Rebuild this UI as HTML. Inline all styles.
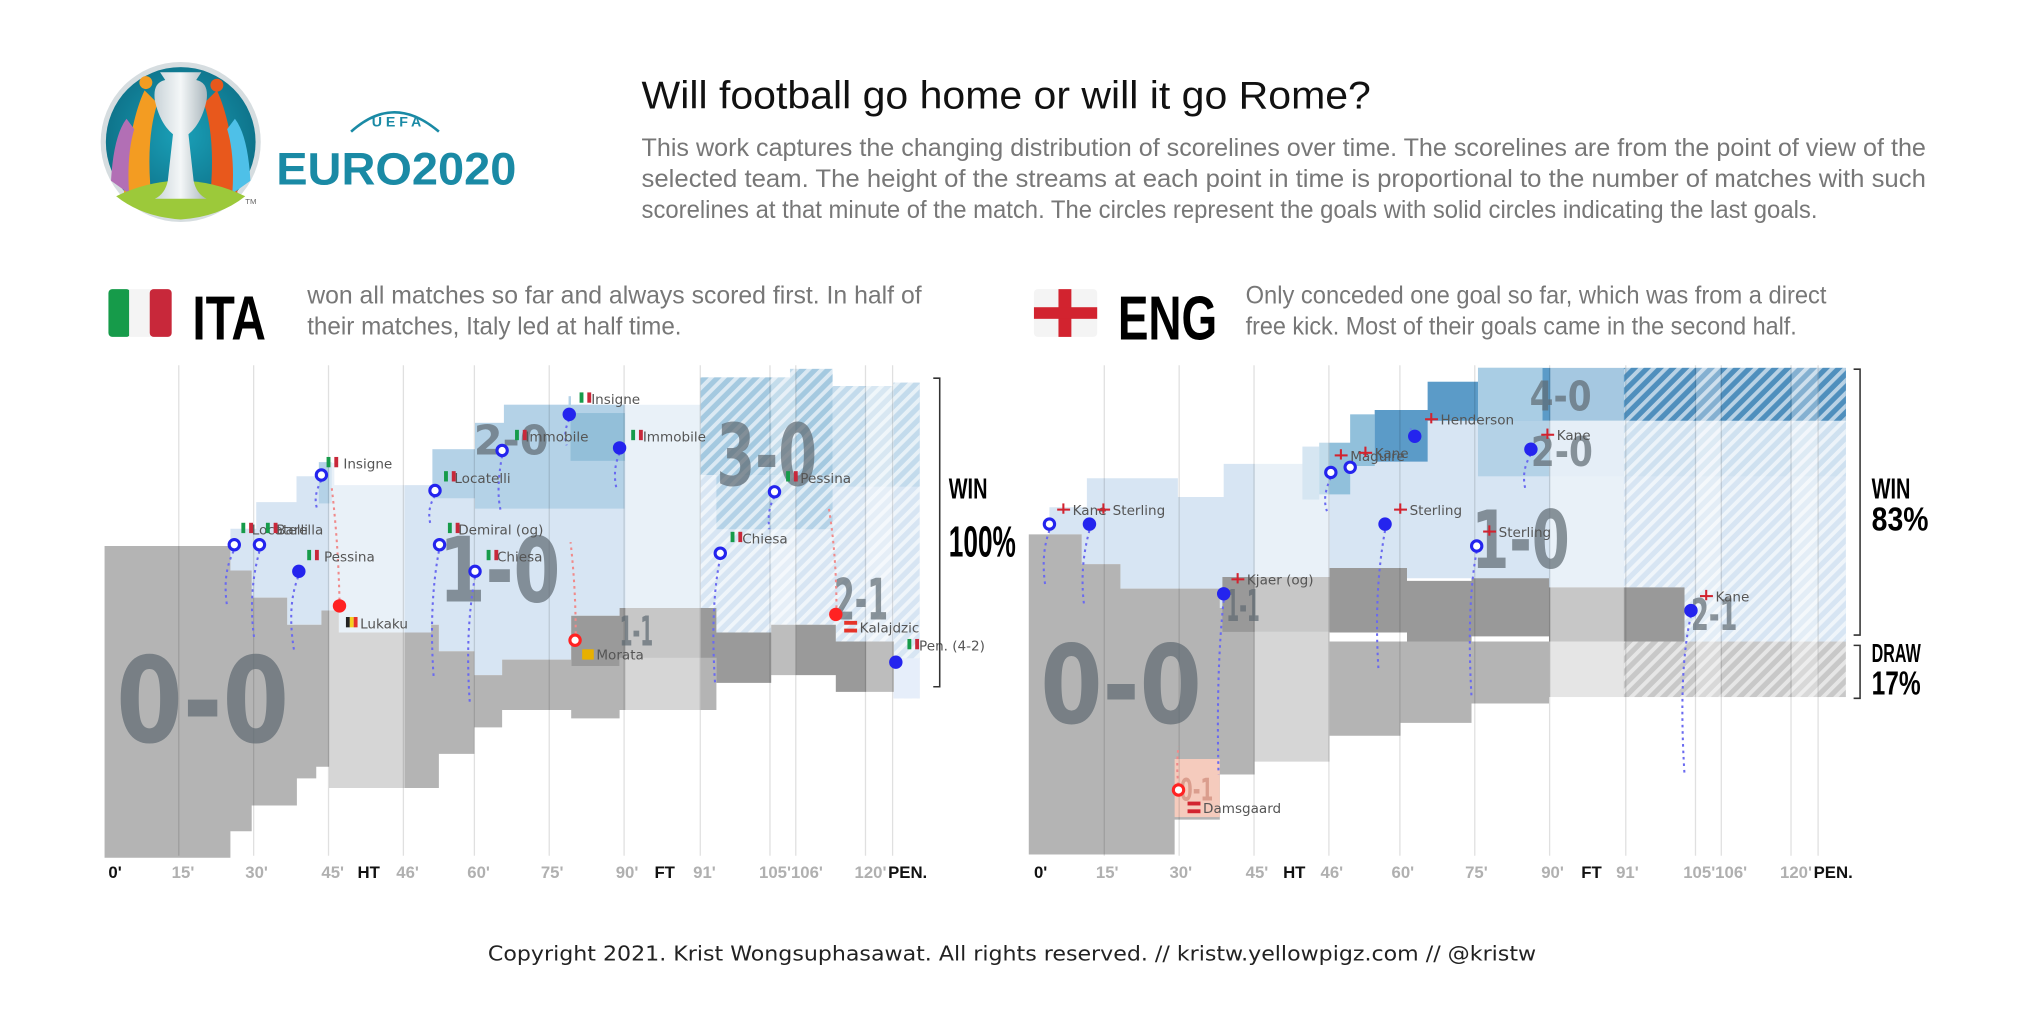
<!DOCTYPE html>
<html><head><meta charset="utf-8"><style>
html,body{margin:0;padding:0;background:#fff}
svg{display:block}
.ax{font-family:"Liberation Sans Narrow","Liberation Sans",sans-serif;font-weight:bold;font-size:13px;fill:#b0b0b0}
.axb{fill:#111}
.gl{font-family:"DejaVu Sans","Liberation Sans",sans-serif;font-size:10.5px;fill:#555}
.big{font-family:"DejaVu Sans","Liberation Sans",sans-serif;font-weight:bold;fill:#5f6a72;opacity:.7}
.desc{font-family:"Liberation Sans Narrow","Liberation Sans",sans-serif;fill:#777;font-size:19px}
</style></head><body>
<svg width="2024" height="1012" viewBox="0 0 1568 784" preserveAspectRatio="none" xmlns="http://www.w3.org/2000/svg">
<defs>
<pattern id="hw" width="7" height="7" patternUnits="userSpaceOnUse" patternTransform="rotate(45)"><rect width="3" height="7" fill="#fff" opacity=".6"/></pattern>
<pattern id="hg" width="7" height="7" patternUnits="userSpaceOnUse" patternTransform="rotate(45)"><rect width="7" height="7" fill="#c8c8c8"/><rect width="3" height="7" fill="#e6e6e6"/></pattern>
<radialGradient id="lg" cx="50%" cy="45%" r="55%"><stop offset="0" stop-color="#1aa0b8"/><stop offset="1" stop-color="#0d6f86"/></radialGradient>
<linearGradient id="tr" x1="0" x2="1"><stop offset="0" stop-color="#c9d3d8"/><stop offset=".5" stop-color="#f4f7f8"/><stop offset="1" stop-color="#aab6bc"/></linearGradient>
</defs>

<!-- LOGO -->
<circle cx="140" cy="110" r="62" fill="#d6dde0"/>
<circle cx="140" cy="110" r="58" fill="url(#lg)"/>
<path d="M96,150 Q100,95 112,70 L122,80 Q112,110 118,160 Z" fill="#f39c22"/>
<path d="M184,150 Q180,95 168,70 L158,80 Q168,110 162,160 Z" fill="#e8581c"/>
<path d="M86,140 Q88,105 98,92 L104,100 Q98,120 100,150 Z" fill="#b26fb5"/>
<path d="M194,140 Q192,105 182,92 L176,100 Q182,120 180,150 Z" fill="#4ec0e8"/>
<circle cx="113" cy="64" r="5" fill="#f39c22"/><circle cx="168" cy="66" r="5" fill="#e8581c"/>
<path d="M90,152 Q140,128 190,152 Q170,168 140,170 Q110,168 90,152Z" fill="#9cc93a"/>
<path d="M124,56 H156 L152,62 Q162,64 160,78 Q156,96 146,104 L150,140 Q152,150 160,154 H120 Q128,150 130,140 L134,104 Q124,96 120,78 Q118,64 128,62 Z" fill="url(#tr)"/>
<text x="190" y="158" font-size="6" font-family="Liberation Sans" fill="#666">TM</text>
<path d="M272,102 Q305,72 340,102" fill="none" stroke="#1a8aa5" stroke-width="2"/>
<text x="288" y="98" font-family="Liberation Sans" font-size="11" font-weight="bold" fill="#1a8aa5" letter-spacing="3">UEFA</text>
<text x="214" y="143" font-family="Liberation Sans" font-weight="bold" font-size="35" fill="#1a8aa5" textLength="186" lengthAdjust="spacingAndGlyphs">EURO2020</text>

<!-- TITLE -->
<text x="497" y="84" font-family="Liberation Sans Narrow','Liberation Sans',sans-serif" style="font-family:'Liberation Sans Narrow','Liberation Sans',sans-serif" font-size="30" fill="#111" textLength="565" lengthAdjust="spacingAndGlyphs">Will football go home or will it go Rome?</text>
<text class="desc" x="497" y="121" font-size="18" textLength="995" lengthAdjust="spacingAndGlyphs">This work captures the changing distribution of scorelines over time. The scorelines are from the point of view of the</text>
<text class="desc" x="497" y="145" font-size="18" textLength="995" lengthAdjust="spacingAndGlyphs">selected team. The height of the streams at each point in time is proportional to the number of matches with such</text>
<text class="desc" x="497" y="169" font-size="18" textLength="911" lengthAdjust="spacingAndGlyphs">scorelines at that minute of the match. The circles represent the goals with solid circles indicating the last goals.</text>

<!-- ITA HEADER -->
<g><rect x="84" y="224" width="17" height="37" rx="3" fill="#169b4a"/><rect x="100" y="224" width="17" height="37" fill="#f4f4f4"/><rect x="116" y="224" width="17" height="37" rx="3" fill="#c8283a"/></g>
<text x="149" y="263" font-family="Liberation Sans" font-weight="bold" font-size="48" fill="#000" textLength="57" lengthAdjust="spacingAndGlyphs">ITA</text>
<text class="desc" x="238" y="235" textLength="476" lengthAdjust="spacingAndGlyphs">won all matches so far and always scored first. In half of</text>
<text class="desc" x="238" y="259" textLength="290" lengthAdjust="spacingAndGlyphs">their matches, Italy led at half time.</text>
<!-- ENG HEADER -->
<rect x="801" y="224" width="49" height="37" rx="3" fill="#f4f4f4"/><rect x="820" y="224" width="10" height="37" fill="#d2232f"/><rect x="801" y="238" width="49" height="9" fill="#d2232f"/>
<text x="866" y="263" font-family="Liberation Sans" font-weight="bold" font-size="48" fill="#000" textLength="77" lengthAdjust="spacingAndGlyphs">ENG</text>
<text class="desc" x="965" y="235" textLength="450" lengthAdjust="spacingAndGlyphs">Only conceded one goal so far, which was from a direct</text>
<text class="desc" x="965" y="259" textLength="427" lengthAdjust="spacingAndGlyphs">free kick. Most of their goals came in the second half.</text>

<!-- ================= ITA CHART ================= -->
<g>
<!-- light blue envelope -->
<path d="M178.5,423 V409.6 H198.5 V389 H229.7 V369 H250.4 V358.6 H259 V375.8 H335 V348 H368 V327.6 H390.4 V313.6 H440.5 V307 H442.3 V313.6 H542.5 V292.4 H612 V285.8 H645 V299 H692 V296.4 H712.5 V541 H692.5 V497 H647.5 V484 H597.5 V490 H555 V471 H480 V477 H442.5 V511 H389 V523 H367.5 V504.5 H340 V484 H334 V490 H262.5 V473 H249 V484 H222.5 V463 H195 V442 H178.5 Z" fill="#d7e5f3"/>
<!-- 2-0 medium -->
<path d="M335,348 H368 V327.6 H390.4 V313.6 H440.5 V307 H442.3 V313.6 H483.8 V394 H368 V386 H335 Z" fill="#b4d2e7"/>
<rect x="442" y="320" width="42" height="37" fill="#93bfd9"/>
<rect x="247" y="358" width="10" height="32" fill="#b4d2e7"/>
<!-- ET hatched 3-0 -->
<path d="M542.5,292.4 H612 V285.8 H645 V368 H542.5 Z" fill="#a4c9e0"/>
<path d="M645,299 H692 V296.4 H712.5 V377 H645 Z" fill="#c3dbec"/>
<rect x="555" y="368" width="90" height="42" fill="#b4d2e7"/>
<rect x="542.5" y="285" width="170" height="256" fill="url(#hw)"/>
<rect x="692" y="510" width="20.5" height="31" fill="#e6eefa"/>
<!-- gray 0-0 -->
<path d="M81,423 H178.5 V442 H195 V463 H222.5 V484 H249 V473 H262.5 V490 H334 V484 H340 V504.5 H367.5 V523 H389 V511 H442.5 V516 H480 V508.6 H555 V550 H480 V556.5 H442.5 V550 H389 V563.5 H367.5 V584 H340 V610.5 H255 V594 H245 V603 H230 V624 H195 V644 H178.5 V664.5 H81 Z" fill="#b4b4b4"/>
<!-- 1-1 dark -->
<path d="M442.5,477 H480 V471 H555 V490 H597.5 V484 H647.5 V497 H692.5 V536 H647.5 V523 H597.5 V529 H555 V509.6 H480 V516 H442.5 Z" fill="#9a9a9a"/>
<!-- light bands -->
<rect x="255" y="283" width="58.5" height="382" fill="#fff" opacity=".45"/>
<rect x="484.5" y="283" width="58.5" height="382" fill="#fff" opacity=".45"/>
<rect x="597.5" y="283" width="19" height="382" fill="#fff" opacity=".35"/>
<rect x="671" y="283" width="21.5" height="382" fill="#fff" opacity=".35"/>
<!-- grid -->
<g stroke="#000" stroke-opacity=".12" stroke-width="1">
<path d="M138.5,283V663M196.5,283V663M254.5,283V663M312.5,283V663M367.5,283V663M425.5,283V663M483.5,283V663M542.5,283V663M596.5,283V663M616.5,283V663M670.5,283V663M691.5,283V663"/>
</g>
<!-- big labels -->
<text class="big" x="90" y="575" font-size="92" textLength="134" lengthAdjust="spacingAndGlyphs">0-0</text>
<text class="big" x="340" y="466" font-size="70" textLength="94" lengthAdjust="spacingAndGlyphs">1-0</text>
<text class="big" x="367" y="352" font-size="32" textLength="58" lengthAdjust="spacingAndGlyphs">2-0</text>
<text class="big" x="555" y="376" font-size="66" textLength="78" lengthAdjust="spacingAndGlyphs">3-0</text>
<text class="big" x="646" y="480" font-size="44" textLength="42" lengthAdjust="spacingAndGlyphs">2-1</text>
<text class="big" x="480" y="500" font-size="32" textLength="26" lengthAdjust="spacingAndGlyphs">1-1</text>
<!-- trails -->
<g fill="none" stroke="#6a6af0" stroke-width="1.6" stroke-dasharray="2 3">
<path d="M181,427 Q172,445 176,470"/><path d="M201,427 Q192,460 197,495"/><path d="M231,447 Q222,470 228,505"/>
<path d="M249,372 Q242,385 246,395"/><path d="M340,427 Q332,470 336,525"/><path d="M368,447 Q360,490 364,545"/>
<path d="M337,384 Q330,395 334,408"/><path d="M389,353 Q384,380 388,396"/><path d="M441,325 Q436,335 439,345"/>
<path d="M480,351 Q474,365 478,380"/><path d="M558,432 Q550,470 554,530"/><path d="M600,385 Q594,395 596,410"/>
<path d="M694,517 Q690,512 692,508"/>
</g>
<g fill="none" stroke="#f08a8a" stroke-width="1.6" stroke-dasharray="2 3">
<path d="M263,465 Q262,420 257,378"/><path d="M446,491 Q446,455 442,420"/><path d="M648,471 Q648,430 642,393"/>
</g>
<!-- goals -->
<g fill="#fff" stroke="#2424ee" stroke-width="2.4">
<circle cx="181.5" cy="422" r="4"/><circle cx="201" cy="422" r="4"/><circle cx="249" cy="368" r="4"/>
<circle cx="340.5" cy="422" r="4"/><circle cx="368" cy="442.6" r="4"/><circle cx="337" cy="380" r="4"/>
<circle cx="389" cy="349" r="4"/><circle cx="558" cy="428.6" r="4"/><circle cx="600" cy="381" r="4"/>
</g>
<g fill="#2424ee"><circle cx="231.5" cy="442.6" r="5.2"/><circle cx="441" cy="321" r="5.2"/><circle cx="480" cy="347" r="5.2"/><circle cx="694" cy="513" r="5.2"/></g>
<circle cx="263" cy="469.4" r="5.2" fill="#f22"/><circle cx="647.5" cy="476" r="5.2" fill="#f22"/>
<circle cx="445.5" cy="496" r="4" fill="#fff" stroke="#f22" stroke-width="2.4"/>
<!-- goal labels -->
<g class="gl">
<text x="195" y="414">Locatelli</text><text x="214" y="414">Barella</text>
<text x="251" y="435">Pessina</text><text x="266" y="363">Insigne</text>
<text x="279" y="487">Lukaku</text><text x="355" y="414">Demiral (og)</text>
<text x="385" y="435">Chiesa</text><text x="352" y="374">Locatelli</text>
<text x="407" y="342">Immobile</text><text x="458" y="313">Insigne</text>
<text x="498" y="342">Immobile</text><text x="462" y="511">Morata</text>
<text x="575" y="421">Chiesa</text><text x="620" y="374">Pessina</text>
<text x="666" y="490">Kalajdzic</text><text x="712" y="504">Pen. (4-2)</text>
</g>
<g>
<!-- little flags -->
<g><rect x="187" y="405" width="3" height="8" fill="#169b4a"/><rect x="193" y="405" width="3" height="8" fill="#c8283a"/></g>
<g><rect x="206" y="405" width="3" height="8" fill="#169b4a"/><rect x="212" y="405" width="3" height="8" fill="#c8283a"/></g>
<g><rect x="238" y="426" width="3" height="8" fill="#169b4a"/><rect x="244" y="426" width="3" height="8" fill="#c8283a"/></g>
<g><rect x="253" y="354" width="3" height="8" fill="#169b4a"/><rect x="259" y="354" width="3" height="8" fill="#c8283a"/></g>
<g><rect x="268" y="478" width="3" height="8" fill="#222"/><rect x="271" y="478" width="3" height="8" fill="#f5d020"/><rect x="274" y="478" width="3" height="8" fill="#e5332a"/></g>
<g><rect x="347" y="405" width="3" height="8" fill="#169b4a"/><rect x="353" y="405" width="3" height="8" fill="#c8283a"/></g>
<g><rect x="377" y="426" width="3" height="8" fill="#169b4a"/><rect x="383" y="426" width="3" height="8" fill="#c8283a"/></g>
<g><rect x="344" y="365" width="3" height="8" fill="#169b4a"/><rect x="350" y="365" width="3" height="8" fill="#c8283a"/></g>
<g><rect x="399" y="333" width="3" height="8" fill="#169b4a"/><rect x="405" y="333" width="3" height="8" fill="#c8283a"/></g>
<g><rect x="449" y="304" width="3" height="8" fill="#169b4a"/><rect x="455" y="304" width="3" height="8" fill="#c8283a"/></g>
<g><rect x="489" y="333" width="3" height="8" fill="#169b4a"/><rect x="495" y="333" width="3" height="8" fill="#c8283a"/></g>
<rect x="451" y="503" width="9" height="8" fill="#e8b000"/>
<g><rect x="566" y="412" width="3" height="8" fill="#169b4a"/><rect x="572" y="412" width="3" height="8" fill="#c8283a"/></g>
<g><rect x="609" y="365" width="3" height="8" fill="#169b4a"/><rect x="615" y="365" width="3" height="8" fill="#c8283a"/></g>
<g><rect x="654" y="481" width="10" height="3" fill="#e5332a"/><rect x="654" y="487" width="10" height="3" fill="#e5332a"/></g>
<g><rect x="703" y="495" width="3" height="8" fill="#169b4a"/><rect x="709" y="495" width="3" height="8" fill="#c8283a"/></g>
</g>
<!-- bracket -->
<path d="M723,293 H728 V532 H723" fill="none" stroke="#333" stroke-width="1.2"/>
<text x="735" y="386" font-family="Liberation Sans" font-weight="bold" font-size="22" fill="#000" textLength="30" lengthAdjust="spacingAndGlyphs">WIN</text>
<text x="735" y="431" font-family="Liberation Sans" font-weight="bold" font-size="34" fill="#000" textLength="52" lengthAdjust="spacingAndGlyphs">100%</text>
<!-- axis -->
<g class="ax">
<text x="84" y="680" class="axb" style="fill:#111">0'</text><text x="133" y="680">15'</text><text x="190" y="680">30'</text><text x="249" y="680">45'</text>
<text x="277" y="680" style="fill:#111">HT</text><text x="307" y="680">46'</text><text x="362" y="680">60'</text><text x="419" y="680">75'</text>
<text x="477" y="680">90'</text><text x="507" y="680" style="fill:#111">FT</text><text x="537" y="680">91'</text>
<text x="588" y="680">105'106'</text><text x="662" y="680">120'</text><text x="688" y="680" style="fill:#111">PEN.</text>
</g>
</g>

<!-- ================= ENG CHART ================= -->
<g>
<!-- light blue envelope -->
<path d="M799,414 H813 V393 H842 V370.5 H912.5 V385 H948 V359.4 H1009 V346 H1022 V343 H1046 V321 H1065 V317.6 H1106 V295.7 H1145 V291 H1430 V497 H1305 V455 H1258 V455 H1200 V455 H1140 V448 H1090 V450 H1030 V489.5 H972 V471 H945 V456 H868 V437 H838 V414 Z" fill="#d7e5f3"/>
<!-- 2-x medium blues -->
<rect x="1009" y="346" width="13" height="41" fill="#b4d2e7"/>
<path d="M1022,343 H1046 V321 H1065 V361 H1046 V383 H1022 Z" fill="#91c0db"/>
<path d="M1065,317.6 H1106 V295.7 H1145 V285 H1430 V326 H1106 V337 H1106 V357.6 H1065 Z" fill="#5b9bc8"/>
<rect x="1145" y="285" width="50" height="41" fill="#a9cde4"/>
<rect x="1260" y="285" width="170" height="41" fill="#4f8fbd"/>
<rect x="1145" y="326" width="55" height="43" fill="#b4d2e7"/>
<rect x="1200" y="326" width="230" height="43" fill="#cfe1f0"/>
<rect x="1305" y="455" width="125" height="42" fill="#d7e5f3"/>
<rect x="1258" y="283" width="172" height="258" fill="url(#hw)"/>
<!-- gray 0-0 -->
<path d="M797,414 H838 V437 H868 V456 H945 V471 H972 V489.5 H1030 V497 H1305 V540 H1200 V545 H1140 V560 H1085 V570 H1030 V590 H972 V600 H945 V635 H910 V662 H797 Z" fill="#b4b4b4"/>
<rect x="1200" y="497" width="58" height="43" fill="#d0d0d0"/>
<rect x="1258" y="497" width="172" height="43" fill="url(#hg)"/>
<!-- 1-1 dark -->
<path d="M947,447 H1030 V440 H1090 V450 H1140 V448 H1200 V455 H1305 V497 H1200 V493 H1140 V497 H1090 V490 H1030 V489.5 H947 Z" fill="#999"/>
<!-- 0-1 -->
<rect x="910" y="588" width="35" height="45" fill="#f5cbbd"/>
<!-- light bands -->
<rect x="972" y="283" width="58" height="382" fill="#fff" opacity=".45"/>
<rect x="1201" y="283" width="57" height="382" fill="#fff" opacity=".45"/>
<rect x="1314" y="283" width="19" height="382" fill="#fff" opacity=".3"/>
<rect x="1388" y="283" width="21" height="382" fill="#fff" opacity=".3"/>
<g stroke="#000" stroke-opacity=".12" stroke-width="1">
<path d="M855.5,283V663M913.5,283V663M971.5,283V663M1029.5,283V663M1084.5,283V663M1142.5,283V663M1200.5,283V663M1259.5,283V663M1313.5,283V663M1333.5,283V663M1387.5,283V663M1408.5,283V663"/>
</g>
<text class="big" x="806" y="560" font-size="84" textLength="125" lengthAdjust="spacingAndGlyphs">0-0</text>
<text class="big" x="1140" y="440" font-size="62" textLength="76" lengthAdjust="spacingAndGlyphs">1-0</text>
<text class="big" x="1185" y="318" font-size="32" textLength="48" lengthAdjust="spacingAndGlyphs">4-0</text>
<text class="big" x="1186" y="361" font-size="32" textLength="48" lengthAdjust="spacingAndGlyphs">2-0</text>
<text class="big" x="1310" y="488" font-size="34" textLength="36" lengthAdjust="spacingAndGlyphs">2-1</text>
<text class="big" x="950" y="481" font-size="34" textLength="26" lengthAdjust="spacingAndGlyphs">1-1</text>
<text class="big" x="914" y="620" font-size="24" textLength="26" lengthAdjust="spacingAndGlyphs" style="fill:#d08a7a">0-1</text>
<g fill="none" stroke="#6a6af0" stroke-width="1.6" stroke-dasharray="2 3">
<path d="M813,411 Q806,430 810,455"/><path d="M844,411 Q836,440 840,470"/><path d="M948,465 Q942,520 944,600"/>
<path d="M1031,370 Q1024,385 1028,396"/><path d="M1073,411 Q1064,460 1068,520"/><path d="M1144,427 Q1136,470 1140,540"/>
<path d="M1186,352 Q1178,365 1182,380"/><path d="M1096,342 Q1092,336 1093,332"/><path d="M1310,477 Q1300,520 1305,600"/>
</g>
<path d="M913,608 Q911,595 913,578" fill="none" stroke="#f08a8a" stroke-width="1.6" stroke-dasharray="2 3"/>
<g fill="#fff" stroke="#2424ee" stroke-width="2.4">
<circle cx="813" cy="406" r="4"/><circle cx="1031" cy="366" r="4"/><circle cx="1046" cy="362" r="4"/><circle cx="1144" cy="423" r="4"/>
</g>
<g fill="#2424ee"><circle cx="844" cy="406" r="5.2"/><circle cx="948" cy="460" r="5.2"/><circle cx="1096" cy="338" r="5.2"/><circle cx="1073" cy="406" r="5.2"/><circle cx="1186" cy="348" r="5.2"/><circle cx="1310" cy="473" r="5.2"/></g>
<circle cx="913" cy="612" r="4" fill="#fff" stroke="#f22" stroke-width="2.4"/>
<g class="gl">
<text x="831" y="399">Kane</text><text x="862" y="399">Sterling</text><text x="966" y="453">Kjaer (og)</text>
<text x="1046" y="357">Maguire</text><text x="1065" y="355">Kane</text><text x="1116" y="329">Henderson</text>
<text x="1092" y="399">Sterling</text><text x="1161" y="416">Sterling</text><text x="1206" y="341">Kane</text>
<text x="1329" y="466">Kane</text><text x="932" y="630">Damsgaard</text>
</g>
<g fill="#d2232f">
<rect x="819" y="394" width="10" height="1.6"/><rect x="823" y="390" width="1.6" height="8"/>
<rect x="850" y="394" width="10" height="1.6"/><rect x="854" y="390" width="1.6" height="8"/>
<rect x="954" y="448" width="10" height="1.6"/><rect x="958" y="444" width="1.6" height="8"/>
<rect x="1034" y="352" width="10" height="1.6"/><rect x="1038" y="348" width="1.6" height="8"/>
<rect x="1053" y="350" width="10" height="1.6"/><rect x="1057" y="346" width="1.6" height="8"/>
<rect x="1104" y="324" width="10" height="1.6"/><rect x="1108" y="320" width="1.6" height="8"/>
<rect x="1080" y="394" width="10" height="1.6"/><rect x="1084" y="390" width="1.6" height="8"/>
<rect x="1149" y="411" width="10" height="1.6"/><rect x="1153" y="407" width="1.6" height="8"/>
<rect x="1194" y="336" width="10" height="1.6"/><rect x="1198" y="332" width="1.6" height="8"/>
<rect x="1317" y="461" width="10" height="1.6"/><rect x="1321" y="457" width="1.6" height="8"/>
<rect x="920" y="621" width="10" height="3"/><rect x="920" y="627" width="10" height="3"/>
</g>
<path d="M1436,286 H1441 V492 H1436" fill="none" stroke="#333" stroke-width="1.2"/>
<path d="M1436,500 H1441 V541 H1436" fill="none" stroke="#333" stroke-width="1.2"/>
<text x="1450" y="386" font-family="Liberation Sans" font-weight="bold" font-size="22" fill="#000" textLength="30" lengthAdjust="spacingAndGlyphs">WIN</text>
<text x="1450" y="411" font-family="Liberation Sans" font-weight="bold" font-size="26" fill="#000" textLength="44" lengthAdjust="spacingAndGlyphs">83%</text>
<text x="1450" y="513" font-family="Liberation Sans" font-weight="bold" font-size="20" fill="#000" textLength="38" lengthAdjust="spacingAndGlyphs">DRAW</text>
<text x="1450" y="538" font-family="Liberation Sans" font-weight="bold" font-size="26" fill="#000" textLength="38" lengthAdjust="spacingAndGlyphs">17%</text>
<g class="ax">
<text x="801" y="680" style="fill:#111">0'</text><text x="849" y="680">15'</text><text x="906" y="680">30'</text><text x="965" y="680">45'</text>
<text x="994" y="680" style="fill:#111">HT</text><text x="1023" y="680">46'</text><text x="1078" y="680">60'</text><text x="1135" y="680">75'</text>
<text x="1194" y="680">90'</text><text x="1225" y="680" style="fill:#111">FT</text><text x="1252" y="680">91'</text>
<text x="1304" y="680">105'106'</text><text x="1379" y="680">120'</text><text x="1405" y="680" style="fill:#111">PEN.</text>
</g>
</g>

<text x="378" y="744" font-family="DejaVu Sans","Liberation Sans",sans-serif style="font-family:'DejaVu Sans','Liberation Sans',sans-serif" font-size="16" fill="#222" textLength="812" lengthAdjust="spacingAndGlyphs">Copyright 2021. Krist Wongsuphasawat. All rights reserved.  // kristw.yellowpigz.com // @kristw</text>
</svg>
</body></html>
